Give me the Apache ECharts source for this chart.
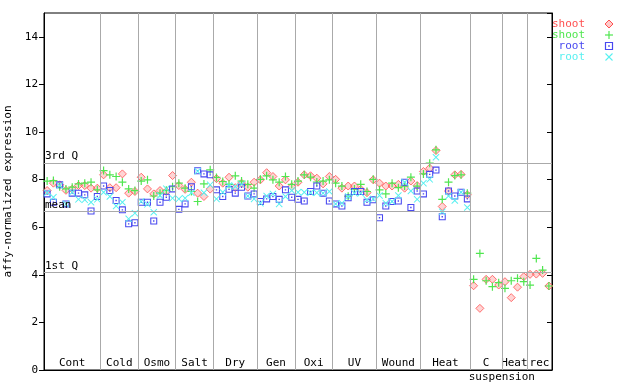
<!DOCTYPE html>
<html><head><meta charset="utf-8">
<script src="https://cdn.jsdelivr.net/npm/echarts@6/dist/echarts.min.js"></script>
<style>html,body{margin:0;padding:0;background:#fff}#c{width:640px;height:384px}</style>
</head><body><div id="c"></div>
<script>
// ---- data ----
const groupNames = ['Cont','Cold','Osmo','Salt','Dry','Gen','Oxi','UV','Wound','Heat','C','Heat','rec'];
const groupSizes = [9,6,6,6,7,6,6,7,7,8,5,4,4];
const subLabel = 'suspension';
const legendNames = ['shoot','shoot','root','root'];
const quartileNames = ['3rd Q','mean','1st Q'];
const quartileValues = [8.70, 6.67, 4.09];

const shootRed = [7.54,7.85,7.78,7.55,7.60,7.75,7.75,7.64,7.64,
 8.20,7.66,7.66,8.24,7.43,7.50,
 8.10,7.61,7.40,7.54,7.50,8.17,
 7.75,7.59,7.89,7.43,7.29,7.60,
 8.04,7.85,8.10,7.66,7.85,7.68,7.89,
 7.99,8.29,8.13,7.73,7.99,7.70,
 7.89,8.20,8.16,8.06,7.82,8.13,
 8.01,7.64,7.73,7.73,7.59,7.45,7.99,
 7.85,7.73,7.73,7.80,7.64,7.94,7.75,
 8.34,8.48,9.22,6.87,7.52,8.20,8.22,7.36,
 3.54,2.59,3.81,3.81,3.57,
 3.71,3.04,3.48,3.92,
 4.02,4.03,4.06,3.53];
const shootGreen = [7.94,7.96,7.70,7.61,7.68,7.82,7.85,7.89,7.57,
 8.38,8.20,8.13,7.89,7.61,7.54,
 7.94,7.99,7.31,7.43,7.55,7.70,
 7.85,7.64,7.50,7.08,7.82,8.41,
 8.09,7.92,7.80,8.16,7.94,7.80,7.64,
 8.01,8.16,7.99,7.89,8.13,7.80,
 7.94,8.20,8.10,7.90,7.94,7.99,
 7.85,7.73,7.30,7.60,7.80,7.50,8.01,
 7.57,7.40,7.85,7.66,7.73,8.10,7.73,
 8.24,8.69,9.25,7.17,7.89,8.17,8.20,7.43,
 3.81,4.90,3.75,3.50,3.67,
 3.43,3.75,3.85,3.71,
 3.57,4.69,4.20,3.53];
const rootBlue = [7.40,7.05,7.78,6.98,7.43,7.43,7.36,6.68,7.29,
 7.73,7.54,7.12,6.73,6.14,6.19,
 7.05,7.05,6.26,7.05,7.26,7.61,
 6.75,6.98,7.70,8.37,8.24,8.20,
 7.57,7.29,7.59,7.43,7.68,7.31,7.40,
 7.08,7.19,7.29,7.17,7.57,7.26,
 7.17,7.10,7.50,7.73,7.43,7.10,
 6.98,6.89,7.24,7.50,7.50,7.05,7.15,
 6.40,6.89,7.08,7.10,7.89,6.83,7.52,
 7.40,8.22,8.40,6.44,7.52,7.31,7.47,7.19,
 null,null,null,null,null,null,null,null,null,null,null,null,null];
const rootCyan = [7.45,7.26,7.75,6.98,7.47,7.17,7.15,7.05,7.17,
 7.47,7.29,6.89,7.05,6.35,6.59,
 7.08,6.96,6.63,7.33,7.62,7.22,
 7.19,7.22,7.45,8.35,7.45,7.78,
 7.19,7.47,7.75,7.71,7.80,7.31,7.19,
 7.01,7.31,7.40,6.98,7.29,7.54,
 7.47,7.47,7.45,7.45,7.43,7.50,
 6.98,7.01,7.29,7.43,7.43,7.15,7.19,
 7.33,7.01,7.08,7.33,7.89,7.52,7.17,
 7.85,8.01,8.94,6.65,7.31,7.12,7.47,6.83,
 null,null,null,null,null,null,null,null,null,null,null,null,null];

// ---- derived ----
const colors = ['#ff5050','#50e650','#4848f0','#58f0f0'];
const FONT = 'DejaVu Sans Mono';
const N = groupSizes.reduce((a,b)=>a+b,0);
const bounds = []; const centers = [];
let acc = 0;
groupSizes.forEach((s,k)=>{ centers.push(acc + s/2); acc += s; if (k < groupSizes.length-1) bounds.push(acc); });
const subPos = bounds[10];
const toPts = arr => arr.map((v,i)=> v==null ? null : [i+0.5, v]).filter(p=>p);

const symDiamond = 'path://M4,0 L8,4 L4,8 L0,4 Z';
const symPlus = 'path://M3.4,0 H4.6 V8 H3.4 Z M0,3.4 H8 V4.6 H0 Z';
const symSquare = 'path://M0,0 H8 V8 H0 Z M1.2,1.2 V6.8 H6.8 V1.2 Z M3.2,3.2 H4.8 V4.8 H3.2 Z';
const symX = 'path://M0,0.8 L0.8,0 L4,3.2 L7.2,0 L8,0.8 L4.8,4 L8,7.2 L7.2,8 L4,4.8 L0.8,8 L0,7.2 L3.2,4 Z';

const chart = echarts.init(document.getElementById('c'));
const gridL = 44, gridR = 88, gridT = 13, gridB = 14;

const markLineData = bounds.map(b=>({xAxis:b, label:{show:false}}))
  .concat(quartileValues.map((v,k)=>({yAxis:v, label:{show:true, formatter:quartileNames[k]}})));

const legendGraphics = [];
const rowY = [24,35,46,57];
legendNames.forEach((n,k)=>{
  legendGraphics.push({type:'text', x: 585, y: rowY[k], style:{text:n, fill:colors[k], font:'11px "'+FONT+'"', textAlign:'right', textVerticalAlign:'middle'}});
});
const mx = 609;
legendGraphics.push({type:'polygon', shape:{points:[[mx,rowY[0]-4],[mx+4,rowY[0]],[mx,rowY[0]+4],[mx-4,rowY[0]]]}, style:{fill:'rgba(255,80,80,0.3)', stroke:colors[0], lineWidth:1}});
legendGraphics.push({type:'rect', shape:{x:mx-0.6, y:rowY[1]-4, width:1.2, height:8}, style:{fill:colors[1]}});
legendGraphics.push({type:'rect', shape:{x:mx-4, y:rowY[1]-0.6, width:8, height:1.2}, style:{fill:colors[1]}});
legendGraphics.push({type:'rect', shape:{x:mx-3.5, y:rowY[2]-3.5, width:7, height:7}, style:{fill:'none', stroke:colors[2], lineWidth:1.2}});
legendGraphics.push({type:'rect', shape:{x:mx-0.8, y:rowY[2]-0.8, width:1.6, height:1.6}, style:{fill:colors[2]}});
legendGraphics.push({type:'line', shape:{x1:mx-3.5, y1:rowY[3]-3.5, x2:mx+3.5, y2:rowY[3]+3.5}, style:{stroke:colors[3], lineWidth:1.1}});
legendGraphics.push({type:'line', shape:{x1:mx+3.5, y1:rowY[3]-3.5, x2:mx-3.5, y2:rowY[3]+3.5}, style:{stroke:colors[3], lineWidth:1.1}});

function scatter(name, data, color, symbol, size, extra) {
  return Object.assign({
    type:'scatter', name, data, symbol, symbolSize:size, animation:false,
    itemStyle:{color, opacity:1}, emphasis:{disabled:true}, silent:true
  }, extra||{});
}

const yBase = {type:'value', min:0, max:15, interval:2, splitLine:{show:false}};

chart.setOption({
  animation:false,
  backgroundColor:'#fff',
  grid:{left:gridL, right:gridR, top:gridT, bottom:gridB, containLabel:false, outerBoundsMode:'none',
    show:true, borderColor:'#000', borderWidth:1, backgroundColor:'transparent'},
  xAxis:[{
    type:'value', min:0, max:N, position:'bottom',
    axisLine:{show:true, onZero:false, lineStyle:{color:'#000', width:1}},
    axisTick:{show:false}, splitLine:{show:false},
    axisLabel:{inside:true, margin:1, customValues:centers, color:'#000', fontFamily:FONT, fontSize:11,
      formatter:(v)=>{ const k = centers.findIndex(c=>Math.abs(c-v)<1e-6); return k>=0 ? groupNames[k] : ''; }}
  },{
    type:'value', min:0, max:N, position:'bottom',
    axisLine:{show:false}, axisTick:{show:false}, splitLine:{show:false},
    axisLabel:{margin:2, customValues:[subPos], color:'#000', fontFamily:FONT, fontSize:11, formatter:()=>subLabel}
  }],
  yAxis:[Object.assign({}, yBase, {
    position:'left',
    name:'affy-normalized expression', nameLocation:'middle', nameGap:28,
    nameTextStyle:{fontFamily:FONT, fontSize:11, color:'#000'},
    axisLine:{show:true, onZero:false, lineStyle:{color:'#000'}},
    axisTick:{show:true, length:5, lineStyle:{color:'#000'}},
    axisLabel:{fontFamily:FONT, fontSize:11, color:'#000', margin:6, showMaxLabel:false}
  }), Object.assign({}, yBase, {
    position:'right',
    axisLine:{show:true, onZero:false, lineStyle:{color:'#000'}},
    axisTick:{show:true, inside:true, length:5, lineStyle:{color:'#000'}},
    axisLabel:{show:false}
  })],
  graphic:legendGraphics,
  series:[
    scatter('shoot', toPts(shootRed), colors[0], symDiamond, 8, {
      itemStyle:{color:'rgba(255,80,80,0.3)', borderColor:colors[0], borderWidth:1},
      markLine:{silent:true, symbol:'none', animation:false,
        lineStyle:{color:'#aaaaaa', type:'solid', width:1},
        label:{position:'insideStartTop', distance:[1,1], color:'#000', fontFamily:FONT, fontSize:11},
        emphasis:{disabled:true},
        data:markLineData}
    }),
    scatter('shoot2', toPts(shootGreen), colors[1], symPlus, 8),
    scatter('root', toPts(rootBlue), colors[2], symSquare, 7),
    scatter('root2', toPts(rootCyan), colors[3], symX, 7)
  ]
});
</script>
</body></html>
